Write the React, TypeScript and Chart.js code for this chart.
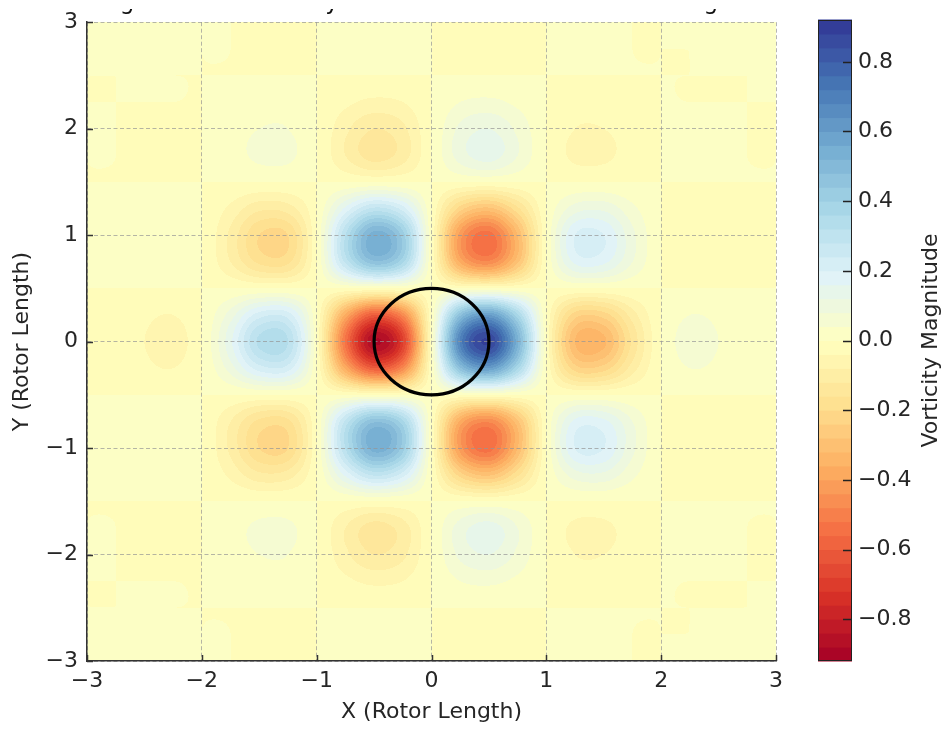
import React, { useEffect, useRef } from "react";
import { Chart, registerables } from "chart.js";

Chart.register(...registerables);

// ---------------- data ----------------
const titleText = "Magnitude of Vorticity in the Wake Behind the Rotating Blade";
const xAxisLabel = "X (Rotor Length)";
const yAxisLabel = "Y (Rotor Length)";
const colorbarLabel = "Vorticity Magnitude";

const xTicks = [-3, -2, -1, 0, 1, 2, 3];
const yTicks = [-3, -2, -1, 0, 1, 2, 3];
const colorbarTicks = [-0.8, -0.6, -0.4, -0.2, 0, 0.2, 0.4, 0.6, 0.8];

// contour levels (filled bands)
const levelMin = -0.92;
const levelMax = 0.92;
const levelStep = 0.04;

// rotor outline
const rotorCenterX = 0;
const rotorCenterY = 0;
const rotorRadius = 0.5;

// sample grid (columns = x, rows = y from top to bottom)
const xValues = [-3, -2.75, -2.5, -2.25, -2, -1.75, -1.5, -1.25, -1, -0.75, -0.5, -0.25, 0, 0.25, 0.5, 0.75, 1, 1.25, 1.5, 1.75, 2, 2.25, 2.5, 2.75, 3];
const yValues = [3, 2.75, 2.5, 2.25, 2, 1.75, 1.5, 1.25, 1, 0.75, 0.5, 0.25, 0, -0.25, -0.5, -0.75, -1, -1.25, -1.5, -1.75, -2, -2.25, -2.5, -2.75, -3];

const vorticity: number[][] = [
  [0, 0, 0, 0, 0, 0, 0, 0, 0, 0.01, 0.01, 0.01, 0, -0.01, -0.01, -0.01, 0, 0, 0, 0, 0, 0, 0, 0, 0],
  [0, 0, 0, 0, 0, 0, -0.01, -0.01, 0, 0.01, 0.01, 0.01, 0, -0.01, -0.01, -0.01, 0, 0.01, 0.01, 0, 0, 0, 0, 0, 0],
  [0, 0, 0, 0, 0, 0, 0, 0, 0, 0, 0, 0, 0, 0, 0, 0, 0, 0, 0, 0, 0, 0, 0, 0, 0],
  [0, 0, 0, 0, 0, 0.01, 0.02, 0.02, 0, -0.03, -0.05, -0.04, 0, 0.04, 0.05, 0.03, 0, -0.02, -0.02, -0.01, 0, 0, 0, 0, 0],
  [0, 0, -0.01, -0.01, 0, 0.02, 0.04, 0.04, 0, -0.07, -0.12, -0.09, 0, 0.09, 0.12, 0.07, 0, -0.04, -0.04, -0.02, 0, 0.01, 0.01, 0, 0],
  [0, 0, -0.01, -0.01, 0, 0.02, 0.05, 0.05, 0, -0.08, -0.14, -0.1, 0, 0.1, 0.14, 0.08, 0, -0.05, -0.05, -0.02, 0, 0.01, 0.01, 0, 0],
  [0, 0, 0, 0, 0, 0, 0, 0, 0, 0, 0, 0, 0, 0, 0, 0, 0, 0, 0, 0, 0, 0, 0, 0, 0],
  [0, 0.01, 0.01, 0.02, 0, -0.05, -0.11, -0.1, 0, 0.17, 0.29, 0.22, 0, -0.22, -0.29, -0.17, 0, 0.1, 0.11, 0.05, 0, -0.02, -0.01, -0.01, 0],
  [0, 0.01, 0.03, 0.03, 0, -0.09, -0.2, -0.2, 0, 0.32, 0.54, 0.42, 0, -0.42, -0.54, -0.32, 0, 0.2, 0.2, 0.09, 0, -0.03, -0.03, -0.01, 0],
  [0, 0.01, 0.02, 0.03, 0, -0.08, -0.17, -0.17, 0, 0.29, 0.47, 0.37, 0, -0.37, -0.47, -0.29, 0, 0.17, 0.17, 0.08, 0, -0.03, -0.02, -0.01, 0],
  [0, 0, 0, 0, 0, 0, 0, 0, 0, 0, 0, 0, 0, 0, 0, 0, 0, 0, 0, 0, 0, 0, 0, 0, 0],
  [0, -0.01, -0.03, -0.04, 0, 0.1, 0.22, 0.22, 0, -0.37, -0.6, -0.47, 0, 0.47, 0.6, 0.37, 0, -0.22, -0.22, -0.1, 0, 0.04, 0.03, 0.01, 0],
  [0, -0.02, -0.04, -0.06, 0, 0.15, 0.33, 0.32, 0, -0.53, -0.88, -0.69, 0, 0.69, 0.88, 0.53, 0, -0.32, -0.33, -0.15, 0, 0.06, 0.04, 0.02, 0],
  [0, -0.01, -0.03, -0.04, 0, 0.1, 0.22, 0.22, 0, -0.37, -0.6, -0.47, 0, 0.47, 0.6, 0.37, 0, -0.22, -0.22, -0.1, 0, 0.04, 0.03, 0.01, 0],
  [0, 0, 0, 0, 0, 0, 0, 0, 0, 0, 0, 0, 0, 0, 0, 0, 0, 0, 0, 0, 0, 0, 0, 0, 0],
  [0, 0.01, 0.02, 0.03, 0, -0.08, -0.17, -0.17, 0, 0.29, 0.47, 0.37, 0, -0.37, -0.47, -0.29, 0, 0.17, 0.17, 0.08, 0, -0.03, -0.02, -0.01, 0],
  [0, 0.01, 0.03, 0.03, 0, -0.09, -0.2, -0.2, 0, 0.32, 0.54, 0.42, 0, -0.42, -0.54, -0.32, 0, 0.2, 0.2, 0.09, 0, -0.03, -0.03, -0.01, 0],
  [0, 0.01, 0.01, 0.02, 0, -0.05, -0.11, -0.1, 0, 0.17, 0.29, 0.22, 0, -0.22, -0.29, -0.17, 0, 0.1, 0.11, 0.05, 0, -0.02, -0.01, -0.01, 0],
  [0, 0, 0, 0, 0, 0, 0, 0, 0, 0, 0, 0, 0, 0, 0, 0, 0, 0, 0, 0, 0, 0, 0, 0, 0],
  [0, 0, -0.01, -0.01, 0, 0.02, 0.05, 0.05, 0, -0.08, -0.14, -0.1, 0, 0.1, 0.14, 0.08, 0, -0.05, -0.05, -0.02, 0, 0.01, 0.01, 0, 0],
  [0, 0, -0.01, -0.01, 0, 0.02, 0.04, 0.04, 0, -0.07, -0.12, -0.09, 0, 0.09, 0.12, 0.07, 0, -0.04, -0.04, -0.02, 0, 0.01, 0.01, 0, 0],
  [0, 0, 0, 0, 0, 0.01, 0.02, 0.02, 0, -0.03, -0.05, -0.04, 0, 0.04, 0.05, 0.03, 0, -0.02, -0.02, -0.01, 0, 0, 0, 0, 0],
  [0, 0, 0, 0, 0, 0, 0, 0, 0, 0, 0, 0, 0, 0, 0, 0, 0, 0, 0, 0, 0, 0, 0, 0, 0],
  [0, 0, 0, 0, 0, 0, -0.01, -0.01, 0, 0.01, 0.01, 0.01, 0, -0.01, -0.01, -0.01, 0, 0.01, 0.01, 0, 0, 0, 0, 0, 0],
  [0, 0, 0, 0, 0, 0, 0, 0, 0, 0.01, 0.01, 0.01, 0, -0.01, -0.01, -0.01, 0, 0, 0, 0, 0, 0, 0, 0, 0],
];

// RdYlBu colormap anchors (low -> high)
const rdYlBu: number[][] = [
  [165, 0, 38], [215, 48, 39], [244, 109, 67], [253, 174, 97], [254, 224, 144],
  [255, 255, 191], [224, 243, 248], [171, 217, 233], [116, 173, 209], [69, 117, 180], [49, 54, 149],
];

// ---------------- helpers ----------------
const FONT = "'DejaVu Sans', sans-serif";
const TEXT = "#262626";

function cmap(t: number): number[] {
  const tt = Math.max(0, Math.min(1, t));
  const s = tt * (rdYlBu.length - 1);
  const i = Math.min(rdYlBu.length - 2, Math.floor(s));
  const f = s - i;
  const a = rdYlBu[i], b = rdYlBu[i + 1];
  return [a[0] + (b[0] - a[0]) * f, a[1] + (b[1] - a[1]) * f, a[2] + (b[2] - a[2]) * f];
}

const nBands = Math.round((levelMax - levelMin) / levelStep);
const bandColors: number[][] = [];
for (let k = 0; k < nBands; k++) {
  const mid = levelMin + (k + 0.5) * levelStep;
  bandColors.push(cmap((mid - levelMin) / (levelMax - levelMin)));
}
function bandIndex(v: number): number {
  const k = Math.floor((v - levelMin) / levelStep + 1e-6);
  return Math.max(0, Math.min(nBands - 1, k));
}

function catmull(p0: number, p1: number, p2: number, p3: number, t: number) {
  return p1 + 0.5 * t * (p2 - p0 + t * (2 * p0 - 5 * p1 + 4 * p2 - p3 + t * (3 * (p1 - p2) + p3 - p0)));
}
function sampleGrid(fx: number, fy: number): number {
  const nx = xValues.length, ny = yValues.length;
  const ix = Math.floor(fx), iy = Math.floor(fy);
  const tx = fx - ix, ty = fy - iy;
  const c = (i: number) => Math.min(nx - 1, Math.max(0, i));
  const r = (j: number) => Math.min(ny - 1, Math.max(0, j));
  const rowVals: number[] = [];
  for (let m = -1; m <= 2; m++) {
    const row = vorticity[r(iy + m)];
    rowVals.push(catmull(row[c(ix - 1)], row[c(ix)], row[c(ix + 1)], row[c(ix + 2)], tx));
  }
  return catmull(rowVals[0], rowVals[1], rowVals[2], rowVals[3], ty);
}

const fmtMinus = (v: number, digits: number) => {
  const s = Math.abs(v).toFixed(digits);
  return v < -1e-9 ? "\u2212" + s : s;
};

// ---------------- plugins ----------------
const heatmapPlugin = {
  id: "heatmap",
  beforeDraw(chart: any) {
    const { ctx, chartArea, scales } = chart;
    const xs = scales.x, ys = scales.y;
    const left = Math.round(chartArea.left), top = Math.round(chartArea.top);
    const w = Math.round(chartArea.right) - left;
    const h = Math.round(chartArea.bottom) - top;
    const off = document.createElement("canvas");
    off.width = w; off.height = h;
    const octx = off.getContext("2d")!;
    const img = octx.createImageData(w, h);
    const x0 = xValues[0], dx = xValues[1] - xValues[0];
    const y0 = yValues[0], dy = yValues[1] - yValues[0];
    const fxs: number[] = [];
    for (let i = 0; i < w; i++) fxs.push((xs.getValueForPixel(left + i + 0.5) - x0) / dx);
    for (let j = 0; j < h; j++) {
      const fy = (ys.getValueForPixel(top + j + 0.5) - y0) / dy;
      for (let i = 0; i < w; i++) {
        const v = sampleGrid(fxs[i], fy);
        const col = bandColors[bandIndex(v)];
        const p = (j * w + i) * 4;
        img.data[p] = col[0]; img.data[p + 1] = col[1]; img.data[p + 2] = col[2]; img.data[p + 3] = 255;
      }
    }
    octx.putImageData(img, 0, 0);
    ctx.save();
    ctx.drawImage(off, left, top);
    ctx.restore();
  },
  afterDatasetsDraw(chart: any) {
    const { ctx, scales } = chart;
    const xs = scales.x, ys = scales.y;
    const cx = xs.getPixelForValue(rotorCenterX), cy = ys.getPixelForValue(rotorCenterY);
    const rx = Math.abs(xs.getPixelForValue(rotorCenterX + rotorRadius) - cx);
    const ry = Math.abs(ys.getPixelForValue(rotorCenterY + rotorRadius) - cy);
    ctx.save();
    ctx.beginPath();
    ctx.ellipse(cx, cy, rx, ry, 0, 0, Math.PI * 2);
    ctx.lineWidth = 3.2;
    ctx.strokeStyle = "#000";
    ctx.stroke();
    ctx.restore();
  },
  afterDraw(chart: any) {
    const { ctx, chartArea, scales } = chart;
    const xs = scales.x, ys = scales.y;
    ctx.save();
    // inward tick marks
    ctx.strokeStyle = "#333";
    ctx.lineWidth = 1.5;
    ctx.beginPath();
    xTicks.forEach((t) => {
      const px = Math.round(xs.getPixelForValue(t)) + 0.5;
      ctx.moveTo(px, chartArea.bottom);
      ctx.lineTo(px, chartArea.bottom - 6);
    });
    yTicks.forEach((t) => {
      const py = Math.round(ys.getPixelForValue(t)) + 0.5;
      ctx.moveTo(chartArea.left, py);
      ctx.lineTo(chartArea.left + 6, py);
    });
    ctx.stroke();
    // title (top of the figure is cropped, only descenders remain)
    ctx.beginPath();
    ctx.rect(0, 9, chart.width, 11);
    ctx.clip();
    ctx.fillStyle = "#111";
    ctx.font = `23px ${FONT}`;
    ctx.textAlign = "left";
    ctx.textBaseline = "alphabetic";
    const lead = ctx.measureText("Ma").width + ctx.measureText("g").width / 2;
    ctx.fillText(titleText, 127 - lead, 9);
    ctx.restore();
  },
};

const colorbarPlugin = {
  id: "colorbar",
  beforeDraw(chart: any) {
    const { ctx, chartArea, scales } = chart;
    const ys = scales.y;
    ctx.save();
    for (let k = 0; k < nBands; k++) {
      const ya = ys.getPixelForValue(levelMin + k * levelStep);
      const yb = ys.getPixelForValue(levelMin + (k + 1) * levelStep);
      const c = bandColors[k];
      ctx.fillStyle = `rgb(${c[0]},${c[1]},${c[2]})`;
      ctx.fillRect(chartArea.left, Math.min(ya, yb) - 0.5, chartArea.right - chartArea.left, Math.abs(ya - yb) + 1);
    }
    ctx.restore();
  },
  afterDraw(chart: any) {
    const { ctx, chartArea, scales } = chart;
    const ys = scales.y;
    ctx.save();
    ctx.strokeStyle = "#222";
    ctx.lineWidth = 1;
    ctx.strokeRect(chartArea.left + 0.5, chartArea.top + 0.5, chartArea.right - chartArea.left - 1, chartArea.bottom - chartArea.top - 1);
    ctx.lineWidth = 1.5;
    ctx.beginPath();
    colorbarTicks.forEach((t) => {
      const py = Math.round(ys.getPixelForValue(t)) + 0.5;
      ctx.moveTo(chartArea.right - 9, py);
      ctx.lineTo(chartArea.right, py);
    });
    ctx.stroke();
    ctx.translate(141, (chartArea.top + chartArea.bottom) / 2);
    ctx.rotate(-Math.PI / 2);
    ctx.fillStyle = TEXT;
    ctx.font = `22px ${FONT}`;
    ctx.textAlign = "center";
    ctx.textBaseline = "middle";
    ctx.fillText(colorbarLabel, 0, 0);
    ctx.restore();
  },
};

// ---------------- component ----------------
export default function App() {
  const mainRef = useRef<HTMLCanvasElement | null>(null);
  const cbRef = useRef<HTMLCanvasElement | null>(null);

  useEffect(() => {
    Chart.defaults.font.family = FONT;
    const tickFont = { family: FONT, size: 22 };
    const main = new Chart(mainRef.current!, {
      type: "scatter",
      data: { datasets: [{ data: [] }] },
      plugins: [heatmapPlugin],
      options: {
        responsive: false,
        animation: false,
        devicePixelRatio: 1,
        layout: { padding: { top: 20, right: 24, left: 0, bottom: 0 } },
        plugins: { legend: { display: false }, tooltip: { enabled: false } },
        scales: {
          x: {
            type: "linear",
            min: -3,
            max: 3,
            afterBuildTicks: (s: any) => { s.ticks = xTicks.map((v) => ({ value: v })); },
            afterFit: (s: any) => { s.height = 68; },
            ticks: { font: tickFont, color: TEXT, padding: 7, maxRotation: 0, callback: (v: any) => fmtMinus(Number(v), 0) },
            grid: { color: "rgba(150,150,150,0.7)", lineWidth: 1, drawTicks: false },
            border: { display: true, color: "#333", width: 1.5, dash: [4, 2.5] },
            title: { display: true, text: xAxisLabel, font: { family: FONT, size: 22 }, color: TEXT, padding: { top: 0, bottom: 4 } },
          },
          y: {
            type: "linear",
            min: -3,
            max: 3,
            afterBuildTicks: (s: any) => { s.ticks = yTicks.map((v) => ({ value: v })); },
            afterFit: (s: any) => { s.width = 87; },
            ticks: { font: tickFont, color: TEXT, padding: 9, callback: (v: any) => fmtMinus(Number(v), 0) },
            grid: { color: "rgba(150,150,150,0.7)", lineWidth: 1, drawTicks: false },
            border: { display: true, color: "#333", width: 1.5, dash: [4, 2.5] },
            title: { display: true, text: yAxisLabel, font: { family: FONT, size: 22 }, color: TEXT, padding: { top: 9, bottom: 0 } },
          },
        },
      },
    } as any);

    const cb = new Chart(cbRef.current!, {
      type: "scatter",
      data: { datasets: [{ data: [] }] },
      plugins: [colorbarPlugin],
      options: {
        responsive: false,
        animation: false,
        devicePixelRatio: 1,
        layout: { padding: { top: 20, bottom: 68, left: 28, right: 0 } },
        plugins: { legend: { display: false }, tooltip: { enabled: false } },
        scales: {
          x: { type: "linear", display: false, min: 0, max: 1 },
          y: {
            type: "linear",
            position: "right",
            min: levelMin,
            max: levelMax,
            afterBuildTicks: (s: any) => { s.ticks = colorbarTicks.map((v) => ({ value: v })); },
            afterFit: (s: any) => { s.width = 92; },
            ticks: { font: tickFont, color: TEXT, padding: 6, callback: (v: any) => fmtMinus(Number(v), 1) },
            grid: { display: false, drawTicks: false },
            border: { display: false },
          },
        },
      },
    } as any);

    return () => { main.destroy(); cb.destroy(); };
  }, []);

  return (
    <div style={{ position: "absolute", left: 0, top: 0, width: 944, height: 729, background: "#fff" }}>
      <canvas ref={mainRef} width={800} height={729} style={{ position: "absolute", left: 0, top: 0, width: 800, height: 729 }} />
      <canvas ref={cbRef} width={154} height={729} style={{ position: "absolute", left: 790, top: 0, width: 154, height: 729 }} />
    </div>
  );
}
